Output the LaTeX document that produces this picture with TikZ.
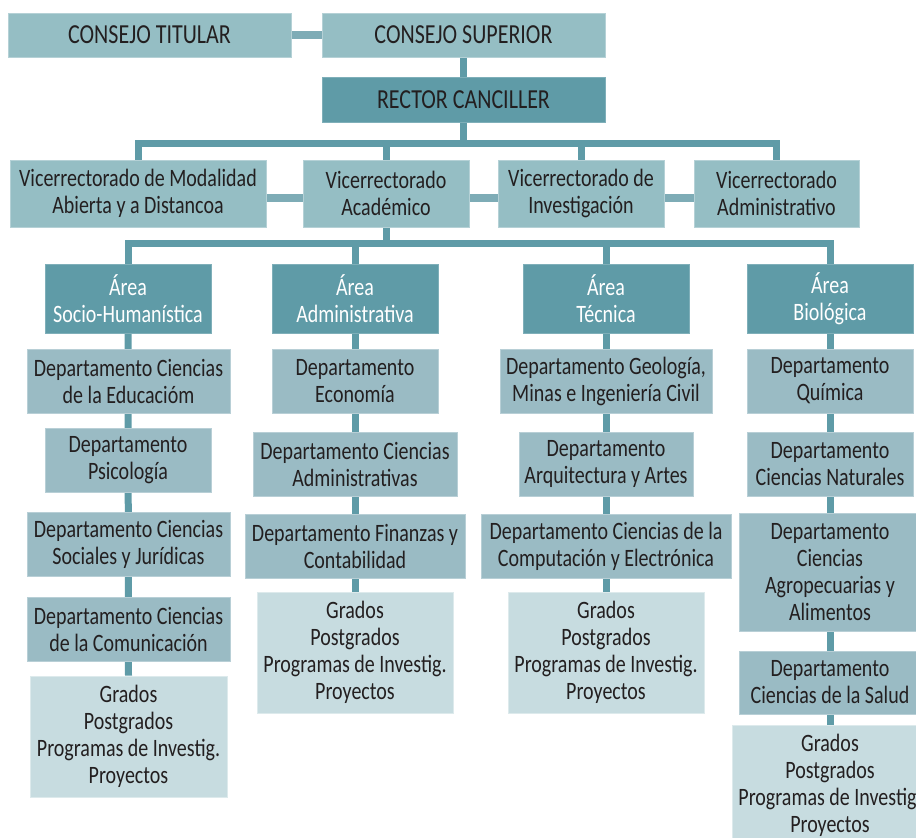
\documentclass[tikz,border=0pt]{standalone}
\usepackage{fontspec}
\setmainfont{Carlito}[FakeStretch=0.8]
\usetikzlibrary{backgrounds}
\definecolor{lightbox}{HTML}{95BEC4}
\definecolor{deptbox}{HTML}{9ABBC4}
\definecolor{darkbox}{HTML}{5F9BA7}
\definecolor{palebox}{HTML}{C7DCE0}
\definecolor{connc}{HTML}{5F9BA7}
\definecolor{lconnc}{HTML}{7EACB6}
\definecolor{txt}{HTML}{231F20}
\tikzset{
  boxbase/.style={inner sep=0pt, align=center, text=txt, font=\fontsize{25}{27}\selectfont},
  bigtext/.style={font=\fontsize{27.5}{30}\selectfont},
  topbox/.style={boxbase, fill=lightbox, draw=lightbox!70!white, line width=0.6pt},
  rectbox/.style={boxbase, bigtext, fill=darkbox, draw=darkbox!80!white, line width=0.6pt},
  areabox/.style={boxbase, fill=darkbox, draw=darkbox!80!white, line width=0.6pt, text=white},
  deptbox/.style={boxbase, fill=deptbox, draw=deptbox!70!white, line width=0.6pt},
  progbox/.style={boxbase, fill=palebox, draw=palebox!60!white, line width=0.6pt},
  conn/.style={draw=connc, line width=7pt, line join=miter},
  lconn/.style={draw=lconnc, line width=8pt}
}
\newcommand{\bx}[7]{\node[#6, minimum width={(#4)-(#2)}, minimum height={(#5)-(#3)}] (#1) at ({((#2)+(#4))/2},{((#3)+(#5))/2}) {#7};}
\begin{document}
\begin{tikzpicture}[x=1pt,y=-1pt]
\useasboundingbox (0,0) rectangle (916,838);
\clip (0,0) rectangle (916,838);
% top
\bx{ct}{8}{13}{291}{57}{topbox,bigtext}{CONSEJO TITULAR}
\bx{cs}{322}{13}{605}{57}{topbox,bigtext}{CONSEJO SUPERIOR}
\bx{rc}{322}{77}{605}{122}{rectbox}{RECTOR CANCILLER}
% vicerrectorados
\bx{v1}{10}{160}{266}{227}{topbox}{Vicerrectorado de Modalidad\\Abierta y a Distancoa}
\bx{v2}{303}{160}{469}{227}{topbox}{Vicerrectorado\\Académico}
\bx{v3}{498}{160}{664}{227}{topbox}{Vicerrectorado de\\Investigación}
\bx{v4}{694}{160}{859}{227}{topbox}{Vicerrectorado\\Administrativo}
% areas
\bx{a1}{45}{264}{211}{333}{areabox}{Área\\Socio-Humanística}
\bx{a2}{272}{264}{438}{333}{areabox}{Área\\Administrativa}
\bx{a3}{523}{264}{689}{333}{areabox}{Área\\Técnica}
\bx{a4}{747}{264}{913}{333}{areabox}{Área\\Biológica}
% column 1
\bx{d11}{27}{349}{230}{413}{deptbox}{Departamento Ciencias\\de la Educacióm}
\bx{d12}{45}{428}{211}{492}{deptbox}{Departamento\\Psicología}
\bx{d13}{27}{512}{230}{576}{deptbox}{Departamento Ciencias\\Sociales y Jurídicas}
\bx{d14}{27}{597}{230}{661}{deptbox}{Departamento Ciencias\\de la Comunicación}
\bx{g1}{30}{676}{227}{797}{progbox}{Grados\\Postgrados\\Programas de Investig.\\Proyectos}
% column 2
\bx{d21}{272}{349}{438}{413}{deptbox}{Departamento\\Economía}
\bx{d22}{253}{432}{457}{496}{deptbox}{Departamento Ciencias\\Administrativas}
\bx{d23}{245}{514}{465}{578}{deptbox}{Departamento Finanzas y\\Contabilidad}
\bx{g2}{257}{592}{453}{713}{progbox}{Grados\\Postgrados\\Programas de Investig.\\Proyectos}
% column 3
\bx{d31}{500}{349}{712}{413}{deptbox}{Departamento Geología,\\Minas e Ingeniería Civil}
\bx{d32}{519}{432}{693}{496}{deptbox}{Departamento\\Arquitectura y Artes}
\bx{d33}{481}{514}{731}{578}{deptbox}{Departamento Ciencias de la\\Computación y Electrónica}
\bx{g3}{508}{592}{704}{713}{progbox}{Grados\\Postgrados\\Programas de Investig.\\Proyectos}
% column 4
\bx{d41}{747}{349}{913}{413}{deptbox}{Departamento\\Química}
\bx{d42}{747}{432}{913}{496}{deptbox}{Departamento\\Ciencias Naturales}
\bx{d43}{739}{513}{921}{631}{deptbox}{Departamento\\Ciencias\\Agropecuarias y\\Alimentos}
\bx{d44}{739}{651}{921}{714}{deptbox}{Departamento\\Ciencias de la Salud}
\bx{g4}{732}{725}{928}{846}{progbox}{Grados\\Postgrados\\Programas de Investig.\\Proyectos}
% bus coordinates
\coordinate (vb) at (0,143);
\coordinate (ab) at (0,243.5);
\begin{pgfonlayer}{background}
\draw[lconn] (ct.east) -- (cs.west);
\draw[conn] (cs.south) -- (rc.north);
\draw[conn] (rc.south) -- (rc.south |- vb);
\draw[conn] (v1.north) -- (v1.north |- vb) -- (v4.north |- vb) -- (v4.north);
\draw[conn] (v2.north) -- (v2.north |- vb);
\draw[conn] (v3.north) -- (v3.north |- vb);
\draw[lconn] ([yshift=-4pt]v1.east) -- ([yshift=-4pt]v2.west);
\draw[lconn] ([yshift=-4pt]v2.east) -- ([yshift=-4pt]v3.west);
\draw[lconn] ([yshift=-4pt]v3.east) -- ([yshift=-4pt]v4.west);
\draw[conn] (v2.south) -- (v2.south |- ab);
\draw[conn] (a1.north) -- (a1.north |- ab) -- (a4.north |- ab) -- (a4.north);
\draw[conn] (a2.north) -- (a2.north |- ab);
\draw[conn] (a3.north) -- (a3.north |- ab);
\draw[conn] (a1.south) -- (g1.north);
\draw[conn] (a2.south) -- (g2.north);
\draw[conn] (a3.south) -- (g3.north);
\draw[conn] (a4.south) -- (g4.north);
\end{pgfonlayer}
\end{tikzpicture}
\end{document}
